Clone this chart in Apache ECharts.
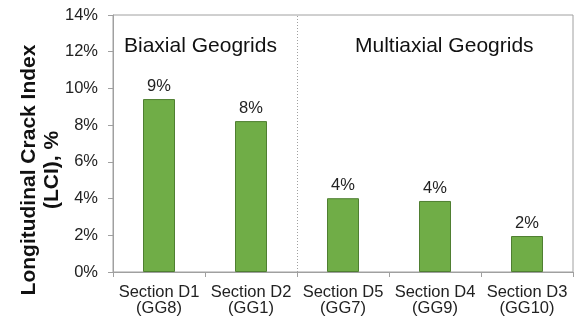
<!DOCTYPE html>
<html><head><meta charset="utf-8">
<script src="https://cdn.jsdelivr.net/npm/echarts@6/dist/echarts.min.js"></script>
<style>html,body{margin:0;padding:0;background:#fff}#c{width:577px;height:324px}</style>
</head><body><div id="c"></div>
<script>
const categories = ['Section D1\n(GG8)', 'Section D2\n(GG1)', 'Section D5\n(GG7)', 'Section D4\n(GG9)', 'Section D3\n(GG10)'];
const lciValues = [9.42, 8.22, 4.02, 3.87, 1.96];
const groupLabels = ['Biaxial Geogrids', 'Multiaxial Geogrids'];
const groupDividerAt = [2];
const yTitle = 'Longitudinal Crack Index\n(LCI), %';

const chart = echarts.init(document.getElementById('c'));
const F = 'Liberation Sans, Arial, sans-serif';
chart.setOption({
  animation: false,
  textStyle: {fontFamily: F},
  grid: {left: 113, right: 4, top: 15, bottom: 52, show: true, borderColor: '#a0a0a0', borderWidth: 1},
  xAxis: [{
    type: 'category', data: categories,
    axisLine: {lineStyle: {color: '#a0a0a0'}},
    axisTick: {show: true, length: 5, lineStyle: {color: '#a0a0a0'}},
    axisLabel: {color: '#222', fontSize: 16.5, lineHeight: 16, margin: 12, interval: 0},
    splitLine: {show: false}
  }, {
    type: 'value', min: 0, max: categories.length, show: false
  }],
  yAxis: {
    type: 'value', min: 0, max: 14, interval: 2,
    axisLine: {show: true, lineStyle: {color: '#a0a0a0'}},
    axisTick: {show: true, length: 5, lineStyle: {color: '#a0a0a0'}},
    axisLabel: {color: '#222', fontSize: 16.5, margin: 15, formatter: v => v + '%'},
    splitLine: {show: false}
  },
  series: [{
    type: 'bar', data: lciValues, barWidth: 32,
    itemStyle: {color: '#70ad47', borderColor: '#4f7f31', borderWidth: 1},
    label: {show: true, position: 'top', distance: 4, color: '#222', fontSize: 16.5,
      formatter: p => Math.round(p.value) + '%'}
  }, {
    type: 'line', xAxisIndex: 1, data: [],
    markLine: {silent: true, symbol: 'none', label: {show: false},
      lineStyle: {color: '#a0a0a0', type: [1, 2], width: 1},
      data: groupDividerAt.map(v => ({xAxis: v}))}
  }],
  graphic: [
    {type: 'text', left: 124, top: 36, style: {text: groupLabels[0], fontSize: 21, fill: '#111', fontFamily: F}},
    {type: 'text', left: 355, top: 36, style: {text: groupLabels[1], fontSize: 21, fill: '#111', fontFamily: F}},
    {type: 'text', x: 41, y: 170, rotation: Math.PI / 2,
      style: {text: yTitle, fontSize: 21, fontWeight: 'bold', fill: '#111', fontFamily: F,
        align: 'center', verticalAlign: 'middle', lineHeight: 23}}
  ]
});
</script></body></html>
